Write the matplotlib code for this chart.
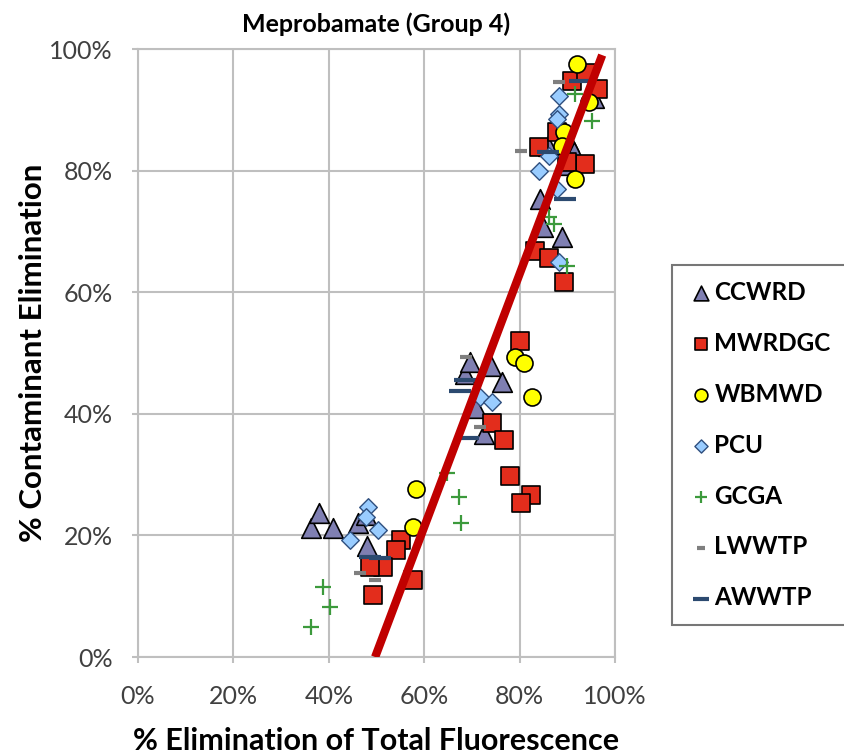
import numpy as np
import matplotlib.pyplot as plt
from matplotlib.ticker import PercentFormatter

plt.rcParams['font.family'] = ['Lato', 'DejaVu Sans']

''' data read off the chart (% values) '''
ccwrd_x = [36.3, 38.0, 40.9, 46.1, 47.8, 48.0, 68.5, 69.5, 73.9, 76.4, 70.8, 72.6, 84.3, 84.8, 88.9, 90.4, 91.4, 95.5, 86.0, 89.0]
ccwrd_y = [21.2, 23.7, 21.2, 22.0, 23.4, 18.3, 46.5, 48.6, 47.8, 45.3, 41.0, 36.6, 75.3, 70.7, 69.0, 84.7, 83.0, 92.0, 84.0, 81.0]

mwrdgc_x = [55.1, 54.1, 51.4, 48.6, 57.6, 49.3, 80.0, 74.3, 76.8, 77.9, 82.3, 80.2,
            83.3, 86.2, 89.4, 93.7, 84.1, 87.9, 90.0, 91.0, 94.0, 96.5]
mwrdgc_y = [19.3, 17.6, 14.8, 14.8, 12.7, 10.2, 51.9, 38.5, 35.7, 29.7, 26.7, 25.4,
            66.7, 65.7, 61.6, 81.1, 83.9, 86.3, 81.4, 94.7, 96.0, 93.5]

wbmwd_x = [58.2, 57.6, 79.1, 81.0, 82.7, 92.1, 94.6, 89.4, 88.9, 91.6]
wbmwd_y = [27.7, 21.4, 49.4, 48.4, 42.8, 97.5, 91.3, 86.3, 84.0, 78.6]

pcu_x = [48.2, 47.8, 50.3, 44.5, 71.6, 74.3, 88.3, 88.3, 84.1, 86.2, 87.9, 87.9, 88.3]
pcu_y = [24.7, 23.0, 20.9, 19.3, 42.7, 42.0, 92.3, 89.3, 79.9, 82.4, 76.9, 88.5, 64.9]

gcga_x = [38.8, 40.3, 36.3, 64.7, 67.2, 67.8, 91.6, 95.2, 86.2, 87.3, 90.0]
gcga_y = [11.5, 8.2, 4.9, 30.3, 26.4, 22.1, 92.6, 88.1, 72.3, 71.2, 64.3]

lwwtp_x = [46.5, 49.7, 68.7, 71.6, 88.3, 80.2]
lwwtp_y = [13.8, 12.7, 49.3, 37.9, 94.6, 83.2]

awwtp_x = [48.6, 50.7, 68.5, 67.6, 69.1, 92.7, 89.6, 86.0]
awwtp_y = [16.5, 16.3, 45.6, 43.8, 36.0, 94.7, 75.3, 83.0]

# trend line
trend_slope = 2.08
trend_intercept = -103.4
trend_y = [0, 99]

''' draw '''
fig = plt.figure(figsize=(8.44, 7.54), dpi=100)
ax = fig.add_axes([0.1635, 0.1286, 0.5652, 0.8064])

ax.scatter(ccwrd_x, ccwrd_y, marker='^', s=200, c='#7f7fb2', edgecolors='black', linewidths=1.2, label='CCWRD', zorder=3)
ax.scatter(mwrdgc_x, mwrdgc_y, marker='s', s=150, c='#e32d1c', edgecolors='black', linewidths=1.2, label='MWRDGC', zorder=3)
ax.scatter(wbmwd_x, wbmwd_y, marker='o', s=150, c='#ffff00', edgecolors='black', linewidths=1.2, label='WBMWD', zorder=3)
ax.scatter(pcu_x, pcu_y, marker='D', s=80, c='#99ccff', edgecolors='#2f4f7f', linewidths=1.0, label='PCU', zorder=3)
ax.scatter(gcga_x, gcga_y, marker='+', s=130, c='#3c9a3c', linewidths=1.6, label='GCGA', zorder=3)
ax.scatter(lwwtp_x, lwwtp_y, marker='_', s=70, c='#7f7f7f', linewidths=3, label='LWWTP', zorder=3)
ax.scatter(awwtp_x, awwtp_y, marker='_', s=260, c='#2c4a70', linewidths=3, label='AWWTP', zorder=3)

ty = np.array(trend_y)
tx = (ty - trend_intercept) / trend_slope
ax.plot(tx, ty, color='#c00000', lw=6, solid_capstyle='butt', zorder=5)

ax.set_xlim(0, 100)
ax.set_ylim(0, 100)
ax.set_xticks(np.arange(0, 101, 20))
ax.set_yticks(np.arange(0, 101, 20))
ax.xaxis.set_major_formatter(PercentFormatter(decimals=0))
ax.yaxis.set_major_formatter(PercentFormatter(decimals=0))
ax.tick_params(length=4, width=1.5, color='#bfbfbf', labelsize=18, labelcolor='#404040', direction='out')
ax.tick_params(axis='x', pad=16)
ax.tick_params(axis='y', pad=14)
ax.grid(True, color='#bfbfbf', lw=1.5)
ax.set_axisbelow(True)
for sp in ax.spines.values():
    sp.set_color('#bfbfbf')
    sp.set_linewidth(1.5)

ax.set_title('Meprobamate (Group 4)', fontsize=18, fontweight='bold', pad=12)
ax.set_xlabel('% Elimination of Total Fluorescence', fontsize=22, fontweight='bold', labelpad=14)
ax.set_ylabel('% Contaminant Elimination', fontsize=22.5, fontweight='bold', labelpad=2)

leg = ax.legend(loc='upper left', bbox_to_anchor=(0.796, 0.650 - 1 / 754), bbox_transform=fig.transFigure,
                borderaxespad=0, fontsize=17.5, labelspacing=1.15, handletextpad=0.0, handlelength=1.1,
                borderpad=0.65, fancybox=False, scatterpoints=1, markerscale=0.75)
leg.get_frame().set_edgecolor('#555555')
leg.get_frame().set_linewidth(1.5)
for t in leg.get_texts():
    t.set_fontweight('bold')

fig.savefig('out.png', dpi=100)
